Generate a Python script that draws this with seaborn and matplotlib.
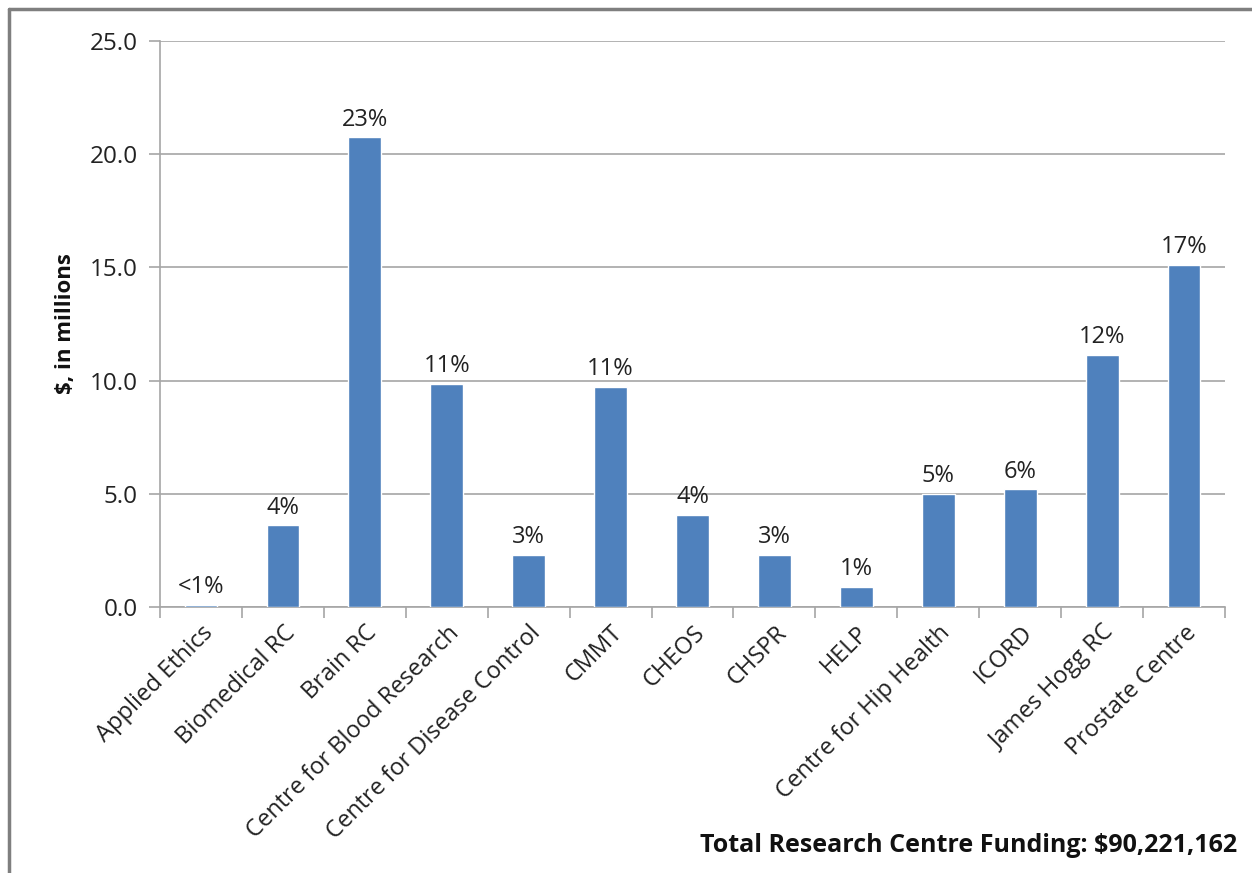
import numpy as np
import pandas as pd
import matplotlib
matplotlib.use("Agg")
import matplotlib.pyplot as plt
import seaborn as sns
from matplotlib.lines import Line2D

centres = ["Applied Ethics", "Biomedical RC", "Brain RC", "Centre for Blood Research",
           "Centre for Disease Control", "CMMT", "CHEOS", "CHSPR", "HELP",
           "Centre for Hip Health", "ICORD", "James Hogg RC", "Prostate Centre"]
funding = [0.1, 3.6, 20.75, 9.85, 2.3, 9.72, 4.06, 2.3, 0.88, 5.0, 5.2, 11.13, 15.1]
pct_labels = ["<1%", "4%", "23%", "11%", "3%", "11%", "4%", "3%", "1%", "5%", "6%", "12%", "17%"]
yticks = [0.0, 5.0, 10.0, 15.0, 20.0, 25.0]
total_text = "Total Research Centre Funding: $90,221,162"

sns.set_theme(style="white")
plt.rcParams['font.family'] = ['Open Sans', 'DejaVu Sans']

df = pd.DataFrame({"centre": centres, "funding": funding})

fig = plt.figure(figsize=(12.52, 8.73), dpi=100)
ax = fig.add_axes([160/1252, 1 - 607/873, 1065/1252, 566/873])

sns.barplot(data=df, x="centre", y="funding", color="#4F81BD", width=0.4,
            saturation=1, ax=ax, zorder=3)

ax.set_ylim(0, 25)
ax.set_xlim(-0.5, len(centres) - 0.5)
ax.set_yticks(yticks)
ax.set_yticklabels([f"{v:.1f}" for v in yticks], fontsize=17.5, color="#222222")
ax.yaxis.grid(True, color="#A6A6A6", linewidth=1.2, zorder=0)
ax.tick_params(axis="y", which="major", length=8, width=1.2, color="#A6A6A6",
               left=True, pad=8)

ax.set_xticks(range(len(centres)))
ax.set_xticklabels(centres, rotation=45, ha="right", rotation_mode="anchor",
                   fontsize=17, color="#222222")
ax.tick_params(axis="x", which="major", length=0, pad=10)
ax.set_xticks(np.arange(-0.5, len(centres), 1.0), minor=True)
ax.tick_params(axis="x", which="minor", length=8, width=1.2, color="#A6A6A6",
               bottom=True)

for s in ["top", "right"]:
    ax.spines[s].set_visible(False)
for s in ["left", "bottom"]:
    ax.spines[s].set_color("#A6A6A6")
    ax.spines[s].set_linewidth(1.2)

for i, (v, lab) in enumerate(zip(funding, pct_labels)):
    ax.text(i, v + 0.25, lab, ha="center", va="bottom", fontsize=17, color="#222222")

ax.set_xlabel("")
ax.set_ylabel("$, in millions", fontsize=16, fontweight="bold", color="#111111", labelpad=10)

fig.text(1237/1252, 1 - 852/873, total_text, ha="right", va="baseline",
         fontsize=18, fontweight="bold", color="#111111")

fig.lines.append(Line2D([9/1252, 9/1252], [0, 1 - 9/873], transform=fig.transFigure,
                        color="#7F7F7F", linewidth=2.5))
fig.lines.append(Line2D([9/1252, 1], [1 - 9/873, 1 - 9/873], transform=fig.transFigure,
                        color="#7F7F7F", linewidth=2.5))

fig.savefig("out.png", dpi=100, facecolor="white")
